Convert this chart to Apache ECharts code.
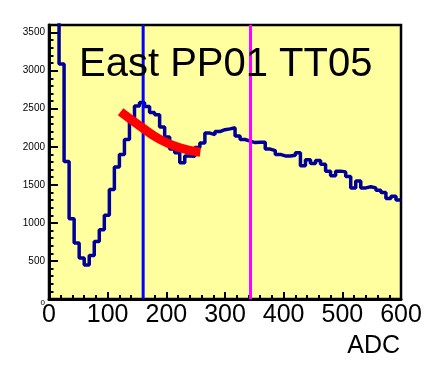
<!DOCTYPE html>
<html>
<head>
<meta charset="utf-8">
<script src="https://cdn.jsdelivr.net/npm/echarts@6/dist/echarts.min.js"></script>
<style>
  html, body { margin: 0; padding: 0; background: #fff; }
  #myChart { width: 445px; height: 376px; }
</style>
</head>
<body>
<div id="myChart"></div>
<script>
  // histogram range and bin counts
  const xMin = 0, xMax = 600, nBins = 70;
  const binValues = [
    3800, 3750, 3086, 1807, 1055, 737, 538, 448, 570, 756,
    910, 1099, 1440, 1735, 1899, 2097, 2339, 2536, 2581, 2530,
    2450, 2420, 2260, 2130, 1970, 1920, 1790, 1880, 1875, 1990,
    2050, 2180, 2160, 2200, 2225, 2235, 2250, 2140, 2095, 2075,
    2055, 2060, 2060, 1970, 1950, 1900, 1880, 1880, 1890, 1920,
    1750, 1830, 1780, 1820, 1770, 1680, 1620, 1680, 1670, 1610,
    1460, 1550, 1460, 1475, 1460, 1430, 1400, 1320, 1350, 1300
  ];
  // red fit curve
  const fitX = [122, 155, 189, 223, 258];
  const fitY = [2460, 2273, 2097, 1987, 1928];
  // vertical markers
  const blueX = 160.5;
  const magentaX = 343.5;
  const yMax = 3600;

  const binW = (xMax - xMin) / nBins;
  let histData = binValues.map((v, i) => [xMin + i * binW, v]);
  histData.push([xMax, binValues[binValues.length - 1]]);

  let myChart = echarts.init(document.getElementById('myChart'));

  myChart.setOption({
    animation: false,
    backgroundColor: '#ffffff',
    textStyle: { fontFamily: 'Liberation Sans' },
    grid: {
      left: 49, right: 44, top: 25, bottom: 77,
      show: true,
      backgroundColor: '#ffffa0',
      borderColor: '#000',
      borderWidth: 2.5
    },
    xAxis: {
      type: 'value',
      min: xMin, max: xMax, interval: 100,
      splitLine: { show: false },
      axisLine: { show: true, onZero: false, lineStyle: { color: '#000', width: 3 } },
      axisTick: { show: true, inside: true, length: 7, lineStyle: { color: '#000', width: 2 } },
      minorTick: { show: true, splitNumber: 5, length: 4, lineStyle: { color: '#000', width: 2 } },
      axisLabel: { color: '#000', fontSize: 25, margin: 4, fontFamily: 'Liberation Sans' }
    },
    yAxis: {
      type: 'value',
      min: 0, max: yMax, interval: 500,
      splitLine: { show: false },
      axisLine: { show: true, onZero: false, lineStyle: { color: '#000', width: 3 } },
      axisTick: { show: true, inside: true, length: 9, lineStyle: { color: '#000', width: 2 } },
      minorTick: { show: true, splitNumber: 5, length: 4.5, lineStyle: { color: '#000', width: 2 } },
      axisLabel: {
        color: '#000', fontSize: 10, margin: 4, fontFamily: 'Liberation Sans',
        showMaxLabel: false,
        formatter: function (v) {
          if (v % 500 !== 0) return '';
          return v === 0 ? '{s|0}' : String(v);
        },
        rich: { s: { fontSize: 8, padding: [8, 0, 0, 0] } }
      }
    },
    title: {
      text: 'East PP01 TT05',
      left: 74, top: 40,
      textStyle: { fontSize: 40, fontWeight: 'normal', color: '#000', fontFamily: 'Liberation Sans' }
    },
    graphic: [{
      type: 'text',
      right: 45, top: 334,
      style: { text: 'ADC', fontSize: 25, fill: '#000', fontFamily: 'Liberation Sans' }
    }],
    series: [
      {
        type: 'line',
        data: histData,
        step: 'end',
        symbol: 'none',
        clip: true,
        lineStyle: { color: '#000099', width: 3.5 },
        z: 2
      },
      {
        type: 'line',
        data: [[blueX, 0], [blueX, yMax]],
        symbol: 'none',
        lineStyle: { color: '#0000ff', width: 3 },
        z: 3
      },
      {
        type: 'line',
        data: [[magentaX, 0], [magentaX, yMax]],
        symbol: 'none',
        lineStyle: { color: '#ff00ff', width: 3 },
        z: 3
      },
      {
        type: 'line',
        data: fitX.map((x, i) => [x, fitY[i]]),
        smooth: true,
        symbol: 'none',
        lineStyle: { color: '#ff0000', width: 9, cap: 'butt' },
        z: 4
      }
    ]
  });
</script>
</body>
</html>
